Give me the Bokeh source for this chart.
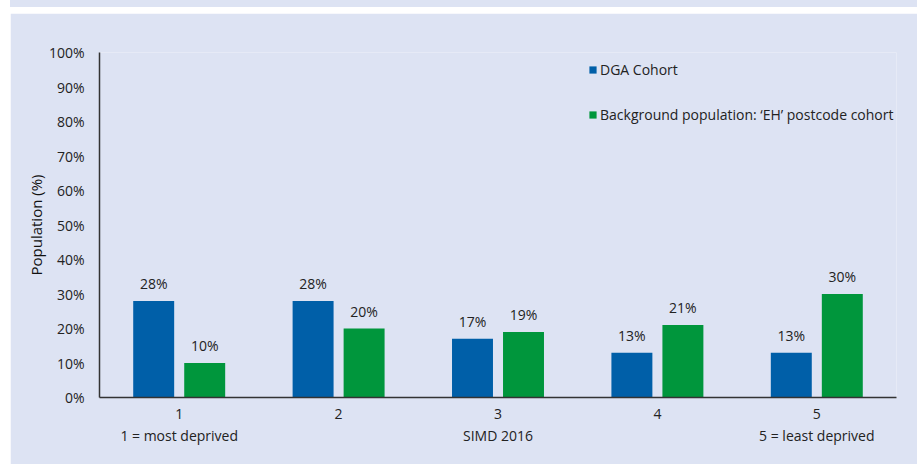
from bokeh.plotting import figure
from bokeh.layouts import column, row
from bokeh.models import (FactorRange, Range1d, FixedTicker, PrintfTickFormatter,
                          CategoricalAxis, Legend, LegendItem, ColumnDataSource, LabelSet,
                          CustomJSTickFormatter, Spacer)
from bokeh.core.properties import value
from bokeh.transform import dodge
from bokeh.embed import file_html
from bokeh.resources import INLINE

categories = ["1", "2", "3", "4", "5"]
dga_cohort = [28, 28, 17, 13, 13]
eh_cohort = [10, 20, 19, 21, 30]
sub_label_cats = ["1", "3", "5"]
sub_label_texts = ["1 = most deprived", "SIMD 2016", "5 = least deprived"]
y_ticks = [0, 10, 20, 30, 40, 50, 60, 70, 80, 90, 100]

BLUE = "#005fa8"
GREEN = "#00963c"
BG = "#dde3f3"
FONT = "Open Sans"
TXT = "#222222"
FS = "14px"

src = ColumnDataSource(dict(
    cat=categories, dga=dga_cohort, eh=eh_cohort,
    dga_lbl=[f"{v}%" for v in dga_cohort], eh_lbl=[f"{v}%" for v in eh_cohort]))

p = figure(x_range=FactorRange(*categories, range_padding=0), y_range=Range1d(0, 100),
           width=907, height=451, output_backend="svg", toolbar_location=None,
           min_border_left=89, min_border_right=21, min_border_top=39, min_border_bottom=67)
p.background_fill_color = BG
p.border_fill_color = BG
p.outline_line_color = None
p.grid.visible = False

off = 0.16
w = 0.257
r1 = p.vbar(x=dodge("cat", -off, range=p.x_range), top="dga", width=w, source=src,
            fill_color=BLUE, line_color=None)
r2 = p.vbar(x=dodge("cat", off, range=p.x_range), top="eh", width=w, source=src,
            fill_color=GREEN, line_color=None)

for col, lbl, o in (("dga", "dga_lbl", -off), ("eh", "eh_lbl", off)):
    p.add_layout(LabelSet(x=dodge("cat", o, range=p.x_range), y=col, text=lbl, source=src,
                          y_offset=8, text_align="center", text_baseline="bottom",
                          text_font=value(FONT), text_font_size=FS, text_color=TXT))

# y axis
ya = p.yaxis[0]
ya.ticker = FixedTicker(ticks=y_ticks)
ya.formatter = PrintfTickFormatter(format="%d%%")
ya.major_tick_line_color = None
ya.minor_tick_line_color = None
ya.axis_line_color = "#333333"
ya.axis_line_width = 1.5
ya.major_label_text_font = FONT
ya.major_label_text_font_size = FS
ya.major_label_text_color = TXT
ya.major_label_standoff = 9
ya.axis_label = "Population (%)"
ya.axis_label_text_font = FONT
ya.axis_label_text_font_size = "15px"
ya.axis_label_text_font_style = "normal"
ya.axis_label_text_color = "#111111"
ya.axis_label_standoff = 0

# x axis
xa = p.xaxis[0]
xa.major_tick_line_color = None
xa.axis_line_color = "#333333"
xa.axis_line_width = 1.5
xa.major_label_text_font = FONT
xa.major_label_text_font_size = FS
xa.major_label_text_color = TXT
xa.major_label_standoff = 5

fmt = CustomJSTickFormatter(args=dict(cats=sub_label_cats, texts=sub_label_texts), code="""
    const i = cats.indexOf(tick);
    return i >= 0 ? texts[i] : "";
""")
xa2 = CategoricalAxis(formatter=fmt, axis_line_color=None,
                      major_tick_line_color=None, major_label_standoff=-2,
                      major_label_text_font=FONT, major_label_text_font_size=FS,
                      major_label_text_color=TXT)
p.add_layout(xa2, "below")

legend = Legend(items=[LegendItem(label="DGA Cohort", renderers=[r1]),
                       LegendItem(label="Background population: \u2018EH\u2019 postcode cohort", renderers=[r2])],
                location=(489, 273), glyph_width=9, glyph_height=9, label_standoff=3,
                spacing=26, padding=0, margin=0, border_line_color=None,
                background_fill_alpha=0, label_text_font=FONT, label_text_font_size=FS,
                label_text_color=TXT)
p.add_layout(legend)

top_strip = row(Spacer(width=10, height=7),
                Spacer(width=907, height=7, styles={"background-color": BG}))
layout = column(top_strip, Spacer(width=917, height=6), row(Spacer(width=10, height=451), p))

open("out.html", "w").write(file_html(layout, INLINE))
